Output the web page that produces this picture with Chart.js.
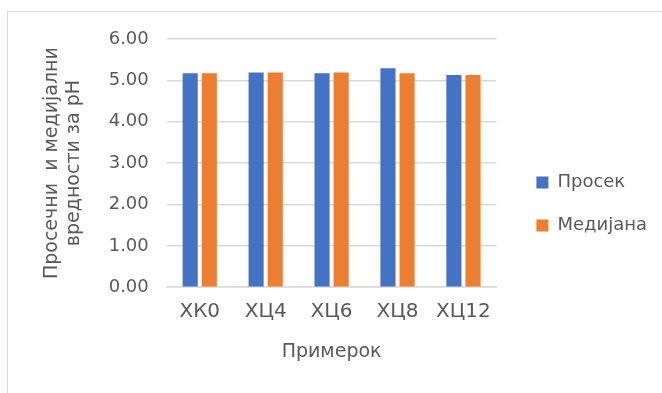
<!DOCTYPE html>
<html><head><meta charset="utf-8">
<script src="https://cdn.jsdelivr.net/npm/chart.js@4"></script>
<style>
html,body{margin:0;padding:0;background:#fff;}
#wrap{position:relative;width:662px;height:393px;overflow:hidden;}
#frame{position:absolute;left:7px;top:11px;width:700px;height:420px;border:1px solid #d9d9d9;box-sizing:border-box;}
canvas{position:absolute;left:0;top:0;}
</style></head>
<body><div id="wrap"><div id="frame"></div><canvas id="c" width="662" height="393"></canvas></div>
<script>
const categories = ["ХК0", "ХЦ4", "ХЦ6", "ХЦ8", "ХЦ12"];
const seriesNames = ["Просек", "Медијана"];
const prosek = [5.17, 5.19, 5.17, 5.29, 5.13];
const medijana = [5.17, 5.19, 5.19, 5.17, 5.13];
const yTitle = ["Просечни  и медијални", "вредности за pH"];
const xTitle = "Примерок";

const FONT = "'DejaVu Sans', sans-serif";
const GREY = "#595959";

// widen the legend box and move its items (gap between plot and legend)
const LEGEND_EXTRA_WIDTH = 20;
const LEGEND_SHIFT_X = 15;
const LEGEND_SHIFT_Y = 3;
const legendGap = {
  id: 'legendGap',
  beforeLayout(chart) {
    const lg = chart.legend;
    if (!lg || lg._gapPatched) return;
    lg._gapPatched = true;
    const fit = lg.fit.bind(lg);
    lg.fit = function () { fit(); this.width += LEGEND_EXTRA_WIDTH; };
    const draw = lg.draw.bind(lg);
    lg.draw = function () {
      this.left += LEGEND_SHIFT_X; this.right += LEGEND_SHIFT_X;
      this.top += LEGEND_SHIFT_Y; this.bottom += LEGEND_SHIFT_Y;
      draw();
      this.left -= LEGEND_SHIFT_X; this.right -= LEGEND_SHIFT_X;
      this.top -= LEGEND_SHIFT_Y; this.bottom -= LEGEND_SHIFT_Y;
    };
  }
};

new Chart(document.getElementById('c'), {
  type: 'bar',
  data: {
    labels: categories,
    datasets: [
      { label: seriesNames[0], data: prosek, backgroundColor: '#4472C4', categoryPercentage: 0.58, barPercentage: 0.79 },
      { label: seriesNames[1], data: medijana, backgroundColor: '#ED7D31', categoryPercentage: 0.58, barPercentage: 0.79 }
    ]
  },
  plugins: [legendGap],
  options: {
    responsive: false,
    animation: false,
    devicePixelRatio: 1,
    layout: { padding: { left: 41, top: 39, right: 0, bottom: 30 } },
    plugins: {
      tooltip: { enabled: false },
      legend: {
        position: 'right',
        labels: {
          boxWidth: 12, boxHeight: 12, padding: 25,
          color: GREY, font: { family: FONT, size: 18 }
        }
      }
    },
    scales: {
      x: {
        grid: { display: false, drawTicks: false },
        border: { display: true, color: '#d9d9d9', width: 1.5 },
        ticks: { color: GREY, font: { family: FONT, size: 20 }, padding: 13 },
        title: { display: true, text: xTitle, color: GREY, font: { family: FONT, size: 19 }, padding: { top: 3, bottom: 0 } }
      },
      y: {
        min: 0, max: 6,
        ticks: { stepSize: 1, color: GREY, font: { family: FONT, size: 18 }, padding: 18,
          callback: v => Number(v).toFixed(2) },
        grid: { color: '#d9d9d9', lineWidth: 1.5, drawTicks: false },
        border: { display: false },
        title: { display: true, text: yTitle, color: GREY, font: { family: FONT, size: 19, lineHeight: 1.15 }, padding: { top: 0, bottom: 6 } }
      }
    }
  }
});
</script></body></html>
